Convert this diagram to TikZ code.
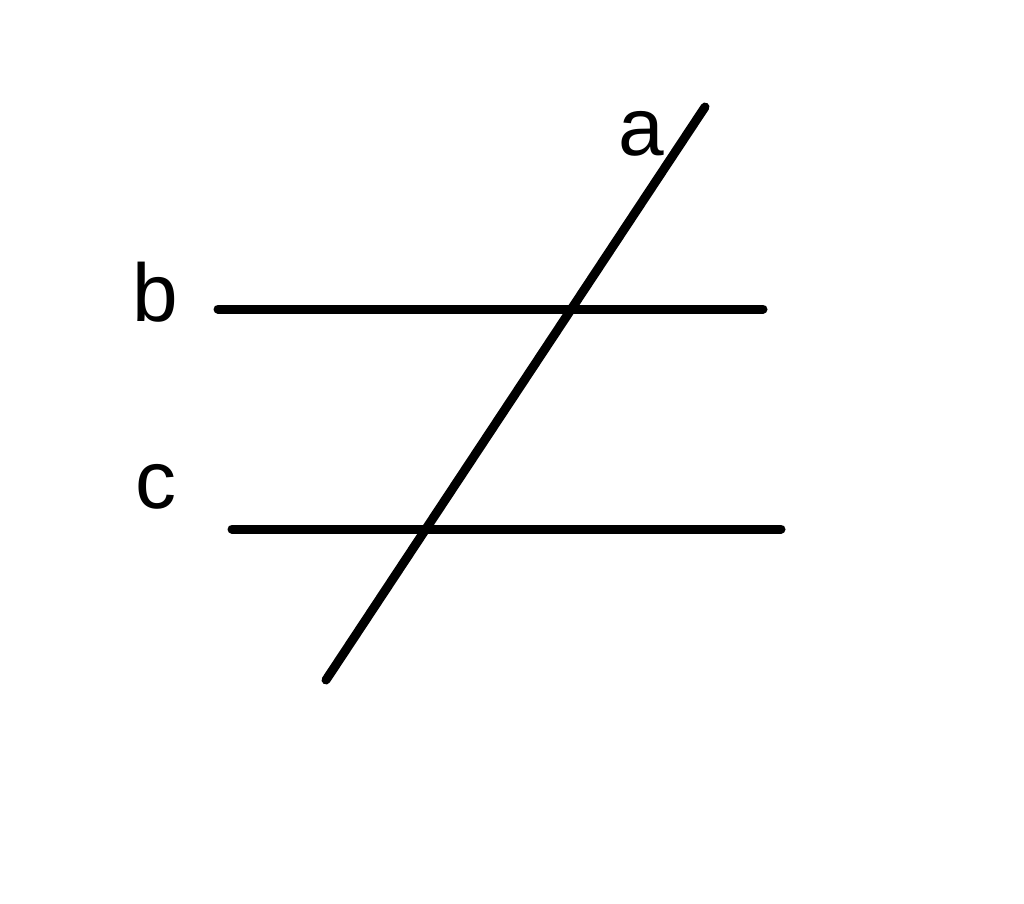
\documentclass[tikz,border=0pt]{standalone}
\usepackage{fontspec}
\setmainfont{Liberation Sans}
\begin{document}
\begin{tikzpicture}[x=0.5pt,y=-0.5pt,
  ln/.style={line width=4.5pt,line cap=round,black},
  lbl/.style={inner sep=0pt,font=\fontsize{41}{49}\selectfont}]
\useasboundingbox (0,0) rectangle (1024,904);
\coordinate (a1) at (326,680);
\coordinate (a2) at (705,107);
\coordinate (b1) at (218,309);
\coordinate (b2) at (763,309);
\coordinate (c1) at (232,529);
\coordinate (c2) at (781,529);
\draw[ln] (a1) -- (a2);
\draw[ln] (b1) -- (b2);
\draw[ln] (c1) -- (c2);
\node[lbl] (la) at (641,134) {a};
\node[lbl] (lb) at (155,292) {b};
\node[lbl] (lc) at (156,487) {c};
\end{tikzpicture}
\end{document}
